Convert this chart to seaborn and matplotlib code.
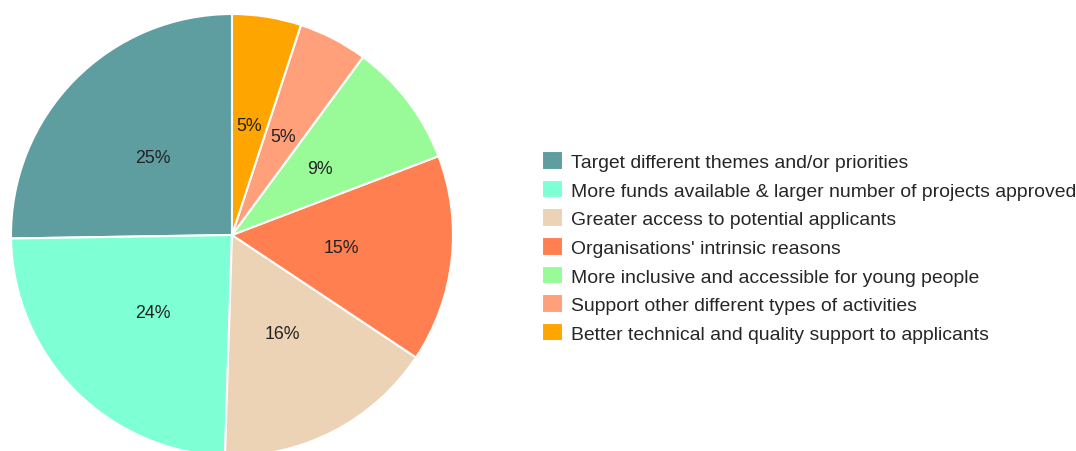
import matplotlib
matplotlib.use("Agg")
import matplotlib.pyplot as plt
import seaborn as sns

categories = [
    "Target different themes and/or priorities",
    "More funds available & larger number of projects approved",
    "Greater access to potential applicants",
    "Organisations' intrinsic reasons",
    "More inclusive and accessible for young people",
    "Support other different types of activities",
    "Better technical and quality support to applicants",
]
shares = [25, 24, 16, 15, 9, 5, 5]
colors = ["#5F9EA0", "#7FFFD4", "#EDD3B6", "#FF7F50", "#98FB98", "#FFA07A", "#FFA500"]

sns.set_theme(style="white")
plt.rcParams["font.family"] = ["Liberation Sans", "DejaVu Sans"]

W, H = 1076, 452
fig = plt.figure(figsize=(W / 100, H / 100), dpi=100)
fig.patch.set_facecolor("white")

# pie centre (232, 236) px from top-left, radius 221 px
cx, cy, r = 232, 236, 221
ax = fig.add_axes([(cx - r) / W, (H - cy - r) / H, 2 * r / W, 2 * r / H])

total = sum(shares)


def fmt(pct):
    return f"{round(pct * total / 100):d}%"


wedges, _, autotexts = ax.pie(
    shares,
    colors=colors,
    startangle=90,
    counterclock=True,
    autopct=fmt,
    pctdistance=0.5,
    radius=1.0,
    wedgeprops=dict(edgecolor="white", linewidth=1.5),
    textprops=dict(fontsize=12.8, color="#222222"),
)
ax.set_xlim(-1, 1)
ax.set_ylim(-1, 1)
ax.set_aspect("equal")
ax.axis("off")

fig.legend(
    wedges,
    categories,
    loc="center left",
    bbox_to_anchor=(532 / W, 1 - 248 / H),
    frameon=False,
    fontsize=13.95,
    handlelength=1.1,
    handleheight=1.1,
    handletextpad=0.4,
    labelspacing=0.45,
    borderpad=0,
)

fig.savefig("out.png", dpi=100, facecolor="white")
